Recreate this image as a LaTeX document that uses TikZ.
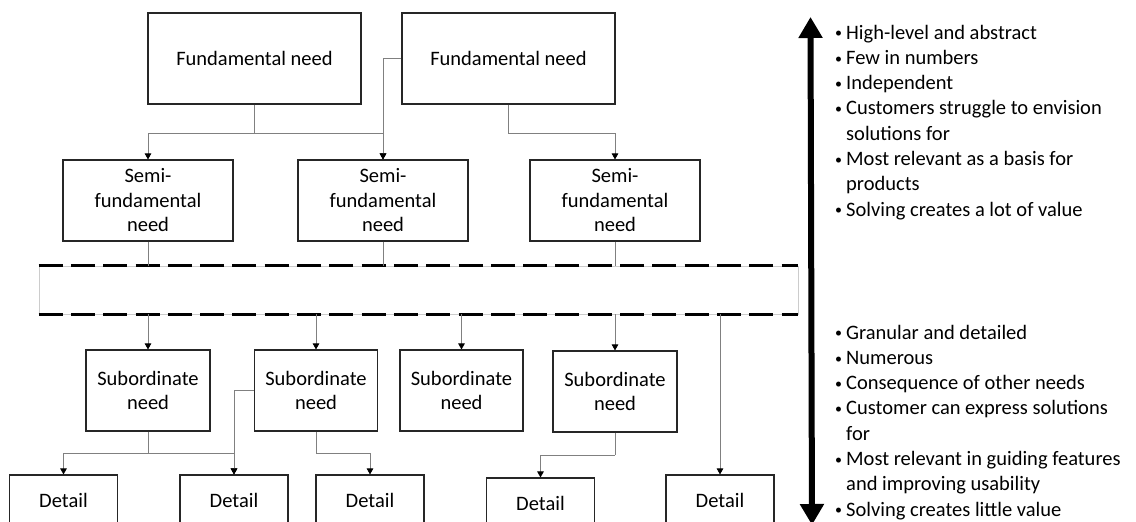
\documentclass[tikz,border=0pt]{standalone}
\usepackage{fontspec}
\setmainfont{Carlito}
\usetikzlibrary{arrows.meta}

% bulleted line with hanging indent for wrapped continuation lines
\newcommand\bulletline{\par\noindent\hangindent=12pt\hangafter=1%
  \makebox[12pt][l]{\hspace{1pt}\raisebox{1.2pt}{\fontsize{14}{14}\selectfont\textbullet}}}

\begin{document}
\begin{tikzpicture}[x=1pt,y=-1pt,
  box/.style={draw=black!85, line width=1.1pt, fill=white, align=center, inner sep=0pt,
    font=\fontsize{20.5}{24.5}\selectfont},
  conn/.style={draw=black!50, line width=0.9pt, -{Triangle[color=black,width=6.5pt,length=6pt]}},
  link/.style={draw=black!50, line width=0.9pt},
  bandline/.style={line width=3pt, black, dash pattern=on 24pt off 8.3pt},
  bigarrow/.style={line width=6pt, black, {Triangle[width=23pt,length=21pt]}-{Triangle[width=23pt,length=21pt]}},
  notes/.style={anchor=base west, inner sep=0pt, font=\fontsize{20.5}{25.3}\selectfont}
]
\useasboundingbox (0,0) rectangle (1136,522);
\clip (0,0) rectangle (1136,522);

% fundamental needs
\node[box, minimum width=213pt, minimum height=91pt] (fn1) at (254.5,58.5) {Fundamental need};
\node[box, minimum width=213pt, minimum height=91pt] (fn2) at (508.5,58.5) {Fundamental need};

% semi-fundamental needs
\node[box, minimum width=170pt, minimum height=81pt] (sf1) at (148,200.5) {Semi-\\fundamental\\need};
\node[box, minimum width=170pt, minimum height=81pt] (sf2) at (383,200.5) {Semi-\\fundamental\\need};
\node[box, minimum width=170pt, minimum height=81pt] (sf3) at (615,200.5) {Semi-\\fundamental\\need};

% elided band between levels
\node[draw=black!20, line width=0.8pt, minimum width=759pt, minimum height=48pt, inner sep=0pt] (band) at (418.5,290) {};
\draw[bandline] (band.north west) -- (band.north east);
\draw[bandline] (band.south west) -- (band.south east);

% subordinate needs
\node[box, minimum width=124pt, minimum height=81pt] (sn1) at (148,390.5) {Subordinate\\need};
\node[box, minimum width=123pt, minimum height=81pt] (sn2) at (316,390.5) {Subordinate\\need};
\node[box, minimum width=123pt, minimum height=81pt] (sn3) at (461.5,390.5) {Subordinate\\need};
\node[box, minimum width=124pt, minimum height=81pt] (sn4) at (615,391.5) {Subordinate\\need};

% details
\node[box, minimum width=108pt, minimum height=50pt] (d1) at (63.5,500) {Detail};
\node[box, minimum width=108pt, minimum height=50pt] (d2) at (234,500) {Detail};
\node[box, minimum width=108pt, minimum height=50pt] (d3) at (370,500) {Detail};
\node[box, minimum width=108pt, minimum height=50pt] (d4) at (540.5,503) {Detail};
\node[box, minimum width=108pt, minimum height=50pt] (d5) at (720,500) {Detail};

% connectors: fundamental -> semi-fundamental
\coordinate (j1) at (254.5,133);
\draw[link] (fn1.south) -- (j1);
\draw[conn] (j1) -| (sf1.north);
\draw[conn] (j1) -| (sf2.north);
\draw[conn] (fn2.west) -| (sf2.north);
\draw[conn] (fn2.south) -- (fn2.south |- j1) -| (sf3.north);

% semi-fundamental -> band
\draw[link] (sf1.south) -- (sf1.south |- band.north);
\draw[link] (sf2.south) -- (sf2.south |- band.north);
\draw[link] (sf3.south) -- (sf3.south |- band.north);

% band -> subordinate / detail
\draw[conn] (sn1.north |- band.south) -- (sn1.north);
\draw[conn] (sn2.north |- band.south) -- (sn2.north);
\draw[conn] (sn3.north |- band.south) -- (sn3.north);
\draw[conn] (sn4.north |- band.south) -- (sn4.north);
\draw[conn] (d5.north |- band.south) -- (d5.north);

% subordinate -> details
\coordinate (j2) at (148,453);
\draw[link] (sn1.south) -- (j2);
\draw[conn] (j2) -| (d1.north);
\draw[conn] (j2) -| (d2.north);
\draw[conn] (sn2.west) -| (d2.north);
\draw[conn] (sn2.south) -- (sn2.south |- j2) -| (d3.north);
\coordinate (j4) at (615,455);
\draw[link] (sn4.south) -- (j4);
\draw[conn] (j4) -| (d4.north);

% abstraction scale
\coordinate (atop) at (810.5,17);
\coordinate (abot) at (812,525);
\draw[bigarrow] (atop) -- (abot);

\node[notes] (high) at (834,39) {\begin{minipage}[t]{300pt}\raggedright
\bulletline High-level and abstract
\bulletline Few in numbers
\bulletline Independent
\bulletline Customers struggle to envision\newline solutions for
\bulletline Most relevant as a basis for\newline products
\bulletline Solving creates a lot of value
\end{minipage}};

\node[notes] (low) at (834,339) {\begin{minipage}[t]{300pt}\raggedright
\bulletline Granular and detailed
\bulletline Numerous
\bulletline Consequence of other needs
\bulletline Customer can express solutions\newline for
\bulletline Most relevant in guiding features\newline and improving usability
\bulletline Solving creates little value
\end{minipage}};
\end{tikzpicture}
\end{document}
